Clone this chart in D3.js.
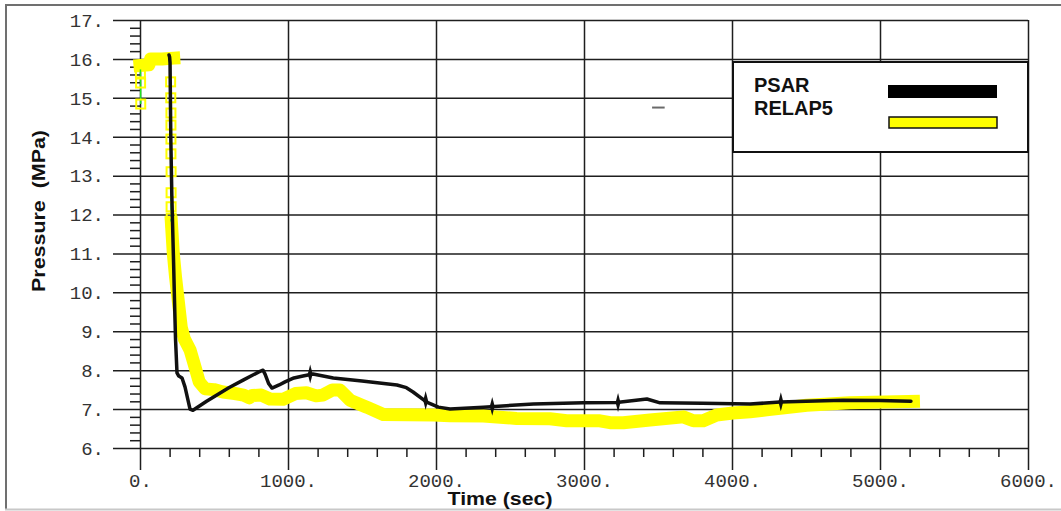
<!DOCTYPE html>
<html>
<head>
<meta charset="utf-8">
<script src="https://cdn.jsdelivr.net/npm/d3@7"></script>
<style>
  html, body { margin: 0; padding: 0; background: #fff; }
  svg { display: block; }
</style>
</head>
<body>
<svg id="chart" width="1061" height="511"></svg>
<script>
// ---------------- DATA ----------------
const xTickValues = [0, 1000, 2000, 3000, 4000, 5000, 6000];
const xTickLabels = ["0.", "1000.", "2000.", "3000.", "4000.", "5000.", "6000."];
const yTickValues = [6, 7, 8, 9, 10, 11, 12, 13, 14, 15, 16, 17];
const yTickLabels = ["6.", "7.", "8.", "9.", "10.", "11.", "12.", "13.", "14.", "15.", "16.", "17."];
const seriesNames = ["PSAR", "RELAP5"];

// PSAR (black)
const psarTime = [196, 200, 203, 208, 215, 228, 233, 240, 250, 262, 284, 304, 338, 358, 450, 600, 700, 800, 831, 845, 870, 892, 940, 980, 1040, 1101, 1169, 1306, 1500, 1736, 1800, 1845, 1937, 2016, 2095, 2320, 2658, 2995, 3220, 3425, 3514, 3800, 4122, 4324, 4500, 4750, 5000, 5209];
const psarPressure = [16.1, 16.05, 15.9, 14.0, 12.5, 10.6, 9.8, 8.8, 7.93, 7.85, 7.8, 7.57, 7.0, 6.97, 7.2, 7.55, 7.75, 7.95, 8.0, 7.9, 7.65, 7.54, 7.62, 7.7, 7.8, 7.85, 7.9, 7.8, 7.72, 7.62, 7.55, 7.44, 7.18, 7.05, 7.0, 7.05, 7.13, 7.16, 7.17, 7.26, 7.16, 7.15, 7.13, 7.18, 7.2, 7.23, 7.22, 7.2];
const psarMarkTime = [1150, 1930, 2380, 3230, 4330];
const psarMarkPressure = [7.9, 7.22, 7.07, 7.17, 7.19];

// RELAP5 (yellow); null marks a gap in the plotted curve
const relapTime = [0, 60, 72, 150, 228, null, 212, 225, 240, 252, 279, 300, 338, 372, 400, 440, 500, 560, 640, 700, 740, 757, 820, 878, 966, 1050, 1124, 1190, 1236, 1300, 1351, 1419, 1532, 1644, 1982, 2095, 2320, 2545, 2770, 2883, 3108, 3176, 3266, 3446, 3671, 3739, 3806, 3896, 4007, 4122, 4234, 4505, 4797, 5226];
const relapPressure = [15.83, 15.85, 16.0, 16.0, 16.02, null, 11.8, 11.0, 10.4, 10.0, 9.1, 8.8, 8.52, 8.08, 7.7, 7.52, 7.5, 7.44, 7.4, 7.36, 7.29, 7.35, 7.36, 7.26, 7.25, 7.4, 7.42, 7.34, 7.36, 7.49, 7.49, 7.23, 7.05, 6.86, 6.85, 6.83, 6.82, 6.76, 6.75, 6.7, 6.7, 6.65, 6.65, 6.72, 6.8, 6.7, 6.7, 6.85, 6.9, 6.93, 6.98, 7.1, 7.16, 7.2];

// RELAP5 sampled points (green trace with hollow square markers)
const relapPtTime = [3, 3, 4, 5, null, 207, 208, 209, 209, 209, 209, 210, 210, 210, 211, 211];
const relapPtPressure = [15.75, 15.64, 15.38, 14.84, null, 15.41, 15.0, 14.61, 14.30, 13.94, 13.56, 13.10, 12.56, 12.2, 11.91, 11.8];

// ---------------- CHART ----------------
const svg = d3.select("#chart");
const x = d3.scaleLinear().domain([0, 6000]).range([140, 1028]);
const y = d3.scaleLinear().domain([6, 17]).range([448, 20]);

const gridColor = "#1e1e1e";
const monoFont = "'Liberation Mono', 'Courier New', monospace";
const sansFont = "'Liberation Sans', Arial, sans-serif";

// outer frame
svg.append("line").attr("x1", 5).attr("x2", 1061).attr("y1", 5).attr("y2", 5)
  .attr("stroke", "#707070").attr("stroke-width", 2);
svg.append("line").attr("x1", 6).attr("x2", 6).attr("y1", 5).attr("y2", 509)
  .attr("stroke", "#707070").attr("stroke-width", 2);
svg.append("line").attr("x1", 5).attr("x2", 1061).attr("y1", 509.5).attr("y2", 509.5)
  .attr("stroke", "#c8c8c8").attr("stroke-width", 2);

// Y axis (horizontal grid lines + labels)
const yAxis = d3.axisLeft(y)
  .tickValues(yTickValues)
  .tickFormat((d, i) => yTickLabels[i])
  .tickSize(-(1028 - 113))
  .tickPadding(9);
const gy = svg.append("g").attr("transform", "translate(113,0)").call(yAxis);
gy.select(".domain").remove();
gy.selectAll(".tick line").attr("stroke", gridColor).attr("stroke-width", 1.5);
gy.selectAll(".tick text").attr("font-family", monoFont).attr("font-size", 19)
  .attr("fill", "#333").attr("dy", "0.33em");

// Y minor ticks
const yMinor = d3.range(6, 17.001, 0.2).filter(v => Math.abs(v - Math.round(v)) > 1e-6);
const yMinorAxis = d3.axisLeft(y).tickValues(yMinor).tickSize(10).tickFormat("");
const gym = svg.append("g").attr("transform", "translate(140,0)").call(yMinorAxis);
gym.select(".domain").remove();
gym.selectAll(".tick line").attr("stroke", gridColor).attr("stroke-width", 1.5);

// X axis (vertical grid lines + labels)
const xAxis = d3.axisBottom(x)
  .tickValues(xTickValues)
  .tickFormat((d, i) => xTickLabels[i])
  .tickSize(-(470 - 20))
  .tickPadding(4);
const gx = svg.append("g").attr("transform", "translate(0,470)").call(xAxis);
gx.select(".domain").remove();
gx.selectAll(".tick line").attr("stroke", gridColor).attr("stroke-width", 1.5);
gx.selectAll(".tick text").attr("font-family", monoFont).attr("font-size", 19)
  .attr("fill", "#333");

// X minor ticks
const xMinor = d3.range(0, 6001, 200).filter(v => v % 1000 !== 0);
const xMinorAxis = d3.axisBottom(x).tickValues(xMinor).tickSize(9).tickFormat("");
const gxm = svg.append("g").attr("transform", "translate(0,448)").call(xMinorAxis);
gxm.select(".domain").remove();
gxm.selectAll(".tick line").attr("stroke", gridColor).attr("stroke-width", 1.5);

// stray dash present in original plot
svg.append("line")
  .attr("x1", x(3460)).attr("x2", x(3545))
  .attr("y1", y(14.75)).attr("y2", y(14.75))
  .attr("stroke", "#6a6a6a").attr("stroke-width", 2);

// Axis titles
svg.append("text")
  .attr("x", 500).attr("y", 505)
  .attr("text-anchor", "middle")
  .attr("font-family", sansFont).attr("font-weight", "bold").attr("font-size", 19)
  .attr("textLength", 105).attr("lengthAdjust", "spacingAndGlyphs")
  .attr("fill", "#111")
  .text("Time (sec)");

svg.append("text")
  .attr("transform", "translate(45,211) rotate(-90)")
  .attr("text-anchor", "middle")
  .attr("font-family", sansFont).attr("font-weight", "bold").attr("font-size", 17.5)
  .attr("textLength", 162).attr("lengthAdjust", "spacingAndGlyphs")
  .attr("fill", "#111")
  .attr("xml:space", "preserve")
  .text("Pressure  (MPa)");

// Lines
const mk = (ts, ps) => ts.map((t, i) => ({ t, p: ps[i] }));
const line = d3.line()
  .defined(d => d.t !== null && d.p !== null)
  .x(d => x(d.t)).y(d => y(d.p));

const relapData = mk(relapTime, relapPressure);
const relapPts = mk(relapPtTime, relapPtPressure);
const psarData = mk(psarTime, psarPressure);

svg.append("path").datum(relapData)
  .attr("d", line)
  .attr("fill", "none").attr("stroke", "#ffff00")
  .attr("stroke-width", 13).attr("stroke-linejoin", "round").attr("stroke-linecap", "square");

svg.append("path").datum(relapPts)
  .attr("d", line)
  .attr("fill", "none").attr("stroke", "#22e022").attr("stroke-width", 1.5);

svg.selectAll("rect.relapPt")
  .data(relapPts.filter(d => d.t !== null && d.p < 15.7))
  .enter().append("rect").attr("class", "relapPt")
  .attr("x", d => x(d.t) - 4.5).attr("y", d => y(d.p) - 4.5)
  .attr("width", 9).attr("height", 9)
  .attr("fill", "none").attr("stroke", "#ffff00").attr("stroke-width", 2);

svg.append("path").datum(psarData)
  .attr("d", line)
  .attr("fill", "none").attr("stroke", "#111")
  .attr("stroke-width", 3.5).attr("stroke-linejoin", "round").attr("stroke-linecap", "round");

const psarMarks = mk(psarMarkTime, psarMarkPressure);
svg.selectAll("path.psarMark")
  .data(psarMarks)
  .enter().append("path").attr("class", "psarMark")
  .attr("d", d3.symbol(d3.symbolDiamond, 32))
  .attr("transform", d => `translate(${x(d.t)},${y(d.p)}) scale(0.8,1.8)`)
  .attr("fill", "#111");

// Legend
const lg = svg.append("g");
lg.append("rect").attr("x", 733).attr("y", 62).attr("width", 295).attr("height", 90)
  .attr("fill", "#fff").attr("stroke", "#111").attr("stroke-width", 2);
lg.append("text").attr("x", 754).attr("y", 92)
  .attr("font-family", sansFont).attr("font-weight", "bold").attr("font-size", 20)
  .attr("fill", "#111").text(seriesNames[0]);
lg.append("text").attr("x", 754).attr("y", 115)
  .attr("font-family", sansFont).attr("font-weight", "bold").attr("font-size", 20)
  .attr("fill", "#111").text(seriesNames[1]);
lg.append("rect").attr("x", 888).attr("y", 85).attr("width", 109).attr("height", 13)
  .attr("fill", "#000");
lg.append("rect").attr("x", 889).attr("y", 117).attr("width", 108).attr("height", 11)
  .attr("fill", "#ffff00").attr("stroke", "#111").attr("stroke-width", 1.5);
</script>
</body>
</html>
